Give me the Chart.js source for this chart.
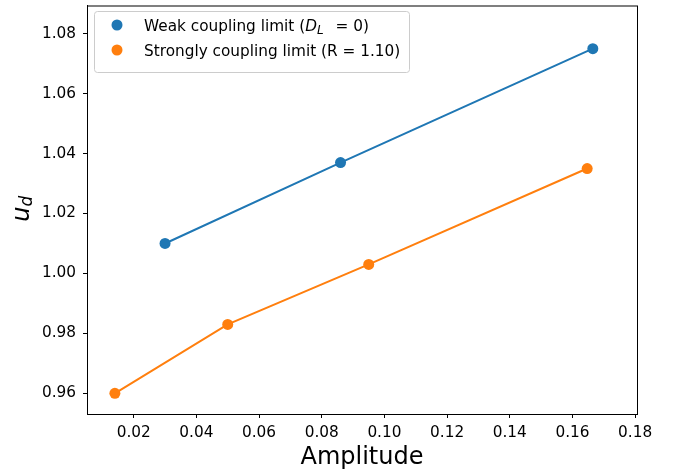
<!DOCTYPE html>
<html>
<head>
<meta charset="utf-8">
<script src="https://cdn.jsdelivr.net/npm/chart.js@4"></script>
<style>
  body { margin: 0; background: #fff; }
</style>
</head>
<body>
<canvas id="chart" width="686" height="476"></canvas>
<script>
// data
const weakAmp = [0.030, 0.086, 0.1665];
const weakUd = [1.010, 1.037, 1.075];
const strongAmp = [0.014, 0.050, 0.095, 0.1647];
const strongUd = [0.960, 0.983, 1.003, 1.035];
const xTicks = [0.02, 0.04, 0.06, 0.08, 0.10, 0.12, 0.14, 0.16, 0.18];
const yTicks = [0.96, 0.98, 1.00, 1.02, 1.04, 1.06, 1.08];
const weakLabel = 'Weak coupling limit (D_L = 0)';
const strongLabel = 'Strongly coupling limit (R = 1.10)';

const BLUE = '#1f77b4';
const ORANGE = '#ff7f0e';
const FONT = 'DejaVu Sans';
const FS = 15.3;

function pts(xs, ys) {
  return xs.map((x, i) => ({ x: x, y: ys[i] }));
}

const extras = {
  id: 'extras',
  afterDatasetsDraw(chart) {
    const ctx = chart.ctx;
    const a = chart.chartArea;
    ctx.save();
    // frame
    ctx.strokeStyle = '#000';
    ctx.lineWidth = 1;
    ctx.strokeRect(a.left + 0.5, a.top + 0.5, a.right - a.left, a.bottom - a.top);

    // legend
    ctx.beginPath();
    ctx.roundRect(94.5, 11.5, 315, 61, 3);
    ctx.fillStyle = 'rgba(255,255,255,0.8)';
    ctx.fill();
    ctx.strokeStyle = '#cccccc';
    ctx.stroke();

    ctx.fillStyle = BLUE;
    ctx.beginPath(); ctx.arc(117, 25, 5.5, 0, Math.PI * 2); ctx.fill();
    ctx.fillStyle = ORANGE;
    ctx.beginPath(); ctx.arc(117, 50, 5.5, 0, Math.PI * 2); ctx.fill();

    ctx.fillStyle = '#000';
    ctx.textBaseline = 'alphabetic';
    let x = 144;
    const base1 = 30.5;
    ctx.font = FS + 'px "' + FONT + '"';
    const p1 = weakLabel.split('D_L')[0];
    const p2 = weakLabel.split('D_L')[1];
    ctx.fillText(p1, x, base1);
    x += ctx.measureText(p1).width;
    ctx.font = 'italic ' + FS + 'px "' + FONT + '"';
    ctx.fillText('D', x, base1);
    x += ctx.measureText('D').width;
    ctx.font = 'italic 12px "' + FONT + '"';
    ctx.fillText('L', x, base1 + 3);
    x += ctx.measureText('L').width + 7;
    ctx.font = FS + 'px "' + FONT + '"';
    ctx.fillText(p2, x, base1);
    ctx.fillText(strongLabel, 144, 55.5);

    // axis titles
    ctx.font = '24px "' + FONT + '"';
    ctx.textAlign = 'center';
    ctx.fillText('Amplitude', (a.left + a.right) / 2, 464);

    ctx.translate(29, (a.top + a.bottom) / 2 - 1);
    ctx.rotate(-Math.PI / 2);
    ctx.textAlign = 'left';
    ctx.font = 'italic 24px "' + FONT + '"';
    const uw = ctx.measureText('u').width;
    ctx.font = 'italic 17px "' + FONT + '"';
    const dw = ctx.measureText('d').width;
    const start = -(uw + dw) / 2;
    ctx.font = 'italic 24px "' + FONT + '"';
    ctx.fillText('u', start, 0);
    ctx.font = 'italic 17px "' + FONT + '"';
    ctx.fillText('d', start + uw, 3);
    ctx.restore();
  }
};

new Chart(document.getElementById('chart'), {
  type: 'scatter',
  data: {
    datasets: [{
      label: weakLabel,
      data: pts(weakAmp, weakUd),
      showLine: true,
      borderColor: BLUE,
      backgroundColor: BLUE,
      borderWidth: 2,
      pointRadius: 5.5,
      pointHoverRadius: 5.5,
      pointBorderWidth: 0
    }, {
      label: strongLabel,
      data: pts(strongAmp, strongUd),
      showLine: true,
      borderColor: ORANGE,
      backgroundColor: ORANGE,
      borderWidth: 2,
      pointRadius: 5.5,
      pointHoverRadius: 5.5,
      pointBorderWidth: 0
    }]
  },
  options: {
    responsive: false,
    animation: false,
    devicePixelRatio: 1,
    layout: { padding: { left: 0, right: 49, top: 4, bottom: 0 } },
    plugins: {
      legend: { display: false },
      tooltip: { enabled: false }
    },
    scales: {
      x: {
        type: 'linear',
        min: 0.0051,
        max: 0.1806,
        afterBuildTicks: s => { s.ticks = xTicks.map(v => ({ value: v })); },
        afterFit: s => { s.height = 62; s.paddingLeft = 0; s.paddingRight = 0; },
        ticks: {
          callback: v => v.toFixed(2),
          color: '#000',
          font: { family: FONT, size: FS },
          padding: 6,
          maxRotation: 0,
          autoSkip: false
        },
        grid: { drawOnChartArea: false, tickLength: 4, color: '#000' },
        border: { color: '#000', width: 1 }
      },
      y: {
        min: 0.9531,
        max: 1.0894,
        afterBuildTicks: s => { s.ticks = yTicks.map(v => ({ value: v })); },
        afterFit: s => { s.width = 87; s.paddingTop = 0; s.paddingBottom = 0; },
        ticks: {
          callback: v => v.toFixed(2),
          color: '#000',
          font: { family: FONT, size: FS },
          padding: 7,
          autoSkip: false
        },
        grid: { drawOnChartArea: false, tickLength: 4, color: '#000' },
        border: { color: '#000', width: 1 }
      }
    }
  },
  plugins: [extras]
});
</script>
</body>
</html>
